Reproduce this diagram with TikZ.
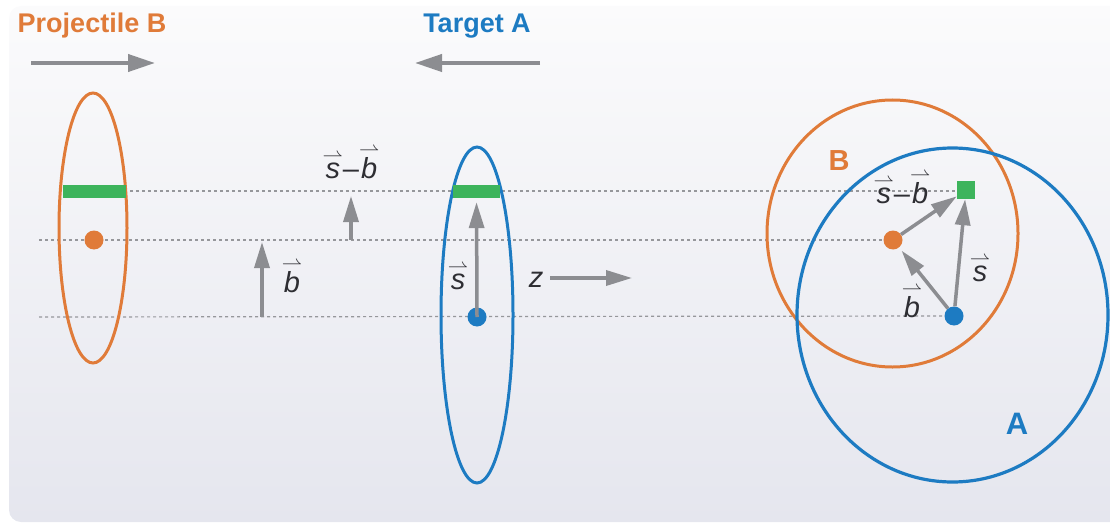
\documentclass[tikz,border=0pt]{standalone}
\usepackage{xcolor}
\usepackage{fontspec}
\setmainfont{Liberation Sans}
\usepackage{tikz}
\usetikzlibrary{arrows.meta,positioning,backgrounds}
\definecolor{projorange}{HTML}{E07B39}
\definecolor{targblue}{HTML}{1D7BC2}
\definecolor{overlapgreen}{HTML}{3DB45C}
\definecolor{arrowgray}{HTML}{8C8D91}
\definecolor{guidegray}{HTML}{96979B}
\definecolor{ink}{HTML}{2E2E33}
\definecolor{paneltop}{HTML}{FBFBFC}
\definecolor{panelbottom}{HTML}{E5E6EE}
\newcommand{\vecl}[1]{$\mathop{\textit{#1}}\limits^{\scriptstyle\rightharpoonup}$}

\begin{document}
\begin{tikzpicture}[x=1pt, y=-1pt,
      guide/.style={draw=guidegray, line width=1.2pt, dash pattern=on 3pt off 3pt},
      vecarrow/.style={draw=arrowgray, line width=3.5pt, -{Triangle[length=26pt,width=15pt]}},
      motion/.style={draw=arrowgray, line width=4pt, -{Triangle[length=27pt,width=17pt]}},
      dot/.style={circle, inner sep=0pt, minimum size=19pt},
      greenbar/.style={fill=overlapgreen, inner sep=0pt, minimum height=13pt},
      title/.style={font=\bfseries\fontsize{27}{30}\selectfont},
      vlabel/.style={text=ink, font=\fontsize{29}{32}\selectfont, inner sep=1pt}]
      \useasboundingbox (0,0) rectangle (1110,524);

      \node[title, text=projorange, anchor=base] (projlabel) at (92,33) {Projectile B};
      \node[title, text=targblue, anchor=base] (targlabel) at (477,33) {Target A};
      \coordinate (projtail) at (31,63);
      \coordinate (projhead) at (155,63);
      \coordinate (targtail) at (540,63);
      \coordinate (targhead) at (415,63);
      \draw[motion] (projtail) -- (projhead);
      \draw[motion] (targtail) -- (targhead);

      \draw[projorange, line width=3pt] (93,228) ellipse [x radius=34, y radius=135];
      \node[greenbar, minimum width=63pt] (barB) at (94,191.5) {};
      \node[dot, fill=projorange] (pdotL) at (94,240) {};

      \draw[targblue, line width=3pt] (477,315) ellipse [x radius=36, y radius=168];
      \node[greenbar, minimum width=47pt] (barA) at (476.5,191.5) {};
      \node[dot, fill=targblue] (tdotL) at (477,317) {};

      \coordinate (bfoot) at (262,317);
      \coordinate (btip) at (262,242);
      \draw[vecarrow] (bfoot) -- (btip);
      \node[vlabel] (blabel) at (292,277) {\vecl{b}};
      \coordinate (sbfoot) at (351,240);
      \coordinate (sbtip) at (351,196);
      \draw[vecarrow] (sbfoot) -- (sbtip);
      \node[vlabel] (sblabel) at (351,163) {\vecl{s}--\vecl{b}};
      \draw[vecarrow, shorten >=4pt] (tdotL.center) -- (barA.south);
      \node[vlabel] (slabel) at (458,277) {\vecl{s}};
      \node[vlabel] (zlabel) at (536,280) {\textit{z}};
      \coordinate (zfoot) at (550,278);
      \coordinate (ztip) at (632,278);
      \draw[vecarrow] (zfoot) -- (ztip);

      \draw[projorange, line width=3pt] (892.5,233.5) ellipse [x radius=125.5, y radius=133.5];
      \draw[targblue, line width=3.2pt] (952.5,315) ellipse [x radius=155.5, y radius=167];
      \node[text=projorange, font=\bfseries\fontsize{29}{30}\selectfont] (bname) at (839,161) {B};
      \node[text=targblue, font=\bfseries\fontsize{31}{32}\selectfont] (aname) at (1017,424) {A};
      \node[fill=overlapgreen, minimum size=18pt, inner sep=0pt] (gsq) at (966,190) {};
      \node[dot, fill=projorange] (pdotR) at (893,240) {};
      \node[dot, fill=targblue] (tdotR) at (954,316) {};
      \draw[vecarrow, shorten >=4pt] (tdotR) -- (pdotR);
      \draw[vecarrow] (pdotR) -- (gsq);
      \draw[vecarrow] (tdotR) -- (gsq);
      \node[vlabel] (sblabelR) at (902,188) {\vecl{s}--\vecl{b}};
      \node[vlabel] (blabelR) at (912,302) {\vecl{b}};
      \node[vlabel] (slabelR) at (980,269) {\vecl{s}};

      \begin{scope}[on background layer]
        \shade[top color=paneltop, bottom color=panelbottom, rounded corners=12pt]
          (9,6) rectangle (1130,522);
        \coordinate (topguide) at (130,191);
        \coordinate (midguide) at (39,240);
        \coordinate (lowguide) at (39,317);
        \draw[guide] (topguide) -- (topguide -| gsq.west);
        \draw[guide] (midguide) -- (pdotR.center);
        \draw[guide] (lowguide) -- (tdotR.center);
      \end{scope}
    \end{tikzpicture}
\end{document}
